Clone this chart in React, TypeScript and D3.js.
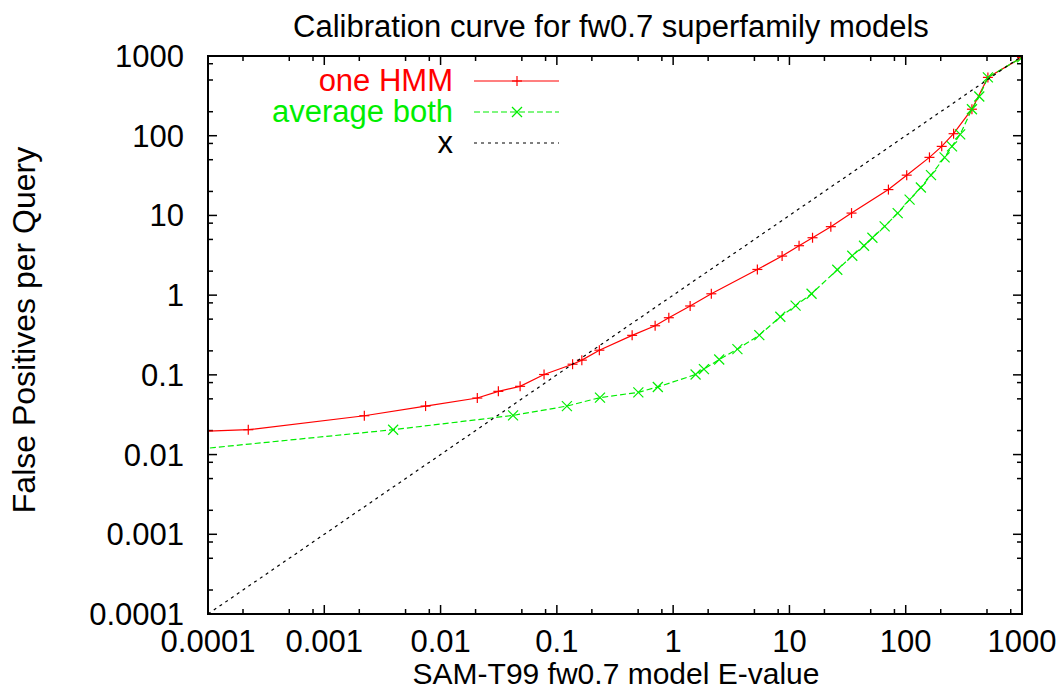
import React from "react";
import * as d3 from "d3";

const title = "Calibration curve for fw0.7 superfamily models";
const xLabel = "SAM-T99 fw0.7 model E-value";
const yLabel = "False Positives per Query";
const tickValues = [1e-4, 1e-3, 1e-2, 1e-1, 1, 10, 100, 1000];
const tickLabels = ["0.0001", "0.001", "0.01", "0.1", "1", "10", "100", "1000"];
const minorMultipliers = [2, 5, 8];

const seriesNames = ["one HMM", "average both", "x"];
const seriesColors = ["#ff0000", "#00ee00", "#000000"];

const oneHmmX = [0.00003, 0.000222, 0.00221, 0.00743, 0.0207, 0.0314, 0.0483, 0.0776, 0.1365, 0.164, 0.232, 0.444, 0.7, 0.918, 1.4, 2.13, 5.3, 8.65, 12.1, 15.8, 22.7, 34.2, 71.0, 102, 160, 204, 258, 371, 509, 1000];
const oneHmmY = [0.0185, 0.0205, 0.0307, 0.0406, 0.0512, 0.0621, 0.0718, 0.101, 0.136, 0.153, 0.204, 0.313, 0.413, 0.521, 0.731, 1.04, 2.1, 3.09, 4.17, 5.25, 7.23, 10.7, 21.1, 32.0, 53.5, 73.5, 106, 215, 539, 960];

const avgBothX = [0.00003, 0.00391, 0.042, 0.122, 0.235, 0.502, 0.738, 1.56, 1.84, 2.49, 3.57, 5.51, 8.35, 11.3, 15.5, 25.8, 34.7, 43.8, 51.7, 65.9, 85.3, 108, 135, 165, 216, 250, 294, 371, 429, 509, 1000];
const avgBothY = [0.0101, 0.0205, 0.031, 0.0406, 0.0518, 0.0604, 0.0705, 0.101, 0.118, 0.156, 0.21, 0.315, 0.536, 0.738, 1.04, 2.08, 3.12, 4.17, 5.25, 7.29, 10.7, 15.8, 22.4, 32.0, 53.5, 73.5, 104, 215, 310, 539, 960];

const diagX = [1e-4, 1000];
const diagY = [1e-4, 1000];

const W = 1060, H = 690;
const L = 208, R = 1022, T = 56, B = 614;
const FONT = "'Liberation Sans', Arial, Helvetica, sans-serif";
const FS = 31;

export default function App() {
  const x = d3.scaleLog().domain([1e-4, 1000]).range([L, R]);
  const y = d3.scaleLog().domain([1e-4, 1000]).range([B, T]);
  const line = d3.line<[number, number]>().x(d => x(d[0])).y(d => y(d[1]));

  const red: [number, number][] = oneHmmX.map((v, i) => [v, oneHmmY[i]]);
  const green: [number, number][] = avgBothX.map((v, i) => [v, avgBothY[i]]);
  const diag: [number, number][] = diagX.map((v, i) => [v, diagY[i]]);

  const minors: number[] = [];
  tickValues.slice(0, -1).forEach(t => minorMultipliers.forEach(m => minors.push(t * m)));

  const inside = (p: [number, number]) => p[0] >= 1e-4 && p[0] <= 1000 && p[1] >= 1e-4 && p[1] <= 1000;
  const plus = (cx: number, cy: number, c: string, k: string) => (
    <g key={k} stroke={c} strokeWidth={1.2}>
      <line x1={cx - 5} y1={cy} x2={cx + 5} y2={cy} />
      <line x1={cx} y1={cy - 5} x2={cx} y2={cy + 5} />
    </g>
  );
  const cross = (cx: number, cy: number, c: string, k: string) => (
    <g key={k} stroke={c} strokeWidth={1.2}>
      <line x1={cx - 5} y1={cy - 5} x2={cx + 5} y2={cy + 5} />
      <line x1={cx - 5} y1={cy + 5} x2={cx + 5} y2={cy - 5} />
    </g>
  );

  const legendY = [81, 112, 143];

  return (
    <svg width={W} height={H} style={{ position: "absolute", left: 0, top: 0, background: "#fff" }} fontFamily={FONT}>
      <defs>
        <clipPath id="plotclip">
          <rect x={L} y={T} width={R - L} height={B - T} />
        </clipPath>
      </defs>
      <rect x={0} y={0} width={W} height={H} fill="#fff" />
      <text x={611} y={37} textAnchor="middle" fontSize={FS}>{title}</text>

      <g stroke="#000" strokeWidth={1.5}>
        {tickValues.map((t, i) => (
          <g key={"mx" + i}>
            <line x1={x(t)} x2={x(t)} y1={B} y2={B - 9} />
            <line x1={x(t)} x2={x(t)} y1={T} y2={T + 9} />
            <line x1={L} x2={L + 9} y1={y(t)} y2={y(t)} />
            <line x1={R} x2={R - 9} y1={y(t)} y2={y(t)} />
          </g>
        ))}
        {minors.map((t, i) => (
          <g key={"mn" + i}>
            <line x1={x(t)} x2={x(t)} y1={B} y2={B - 5} />
            <line x1={x(t)} x2={x(t)} y1={T} y2={T + 5} />
            <line x1={L} x2={L + 5} y1={y(t)} y2={y(t)} />
            <line x1={R} x2={R - 5} y1={y(t)} y2={y(t)} />
          </g>
        ))}
      </g>

      {tickValues.map((t, i) => (
        <text key={"xl" + i} x={x(t)} y={652} textAnchor="middle" fontSize={FS}>{tickLabels[i]}</text>
      ))}
      {tickValues.map((t, i) => (
        <text key={"yl" + i} x={184} y={y(t) + 11} textAnchor="end" fontSize={FS}>{tickLabels[i]}</text>
      ))}
      <text x={616} y={684} textAnchor="middle" fontSize={30}>{xLabel}</text>
      <text transform={`translate(35, 330) rotate(-90)`} textAnchor="middle" fontSize={32}>{yLabel}</text>

      <g clipPath="url(#plotclip)">
        <path d={line(red) || ""} fill="none" stroke={seriesColors[0]} strokeWidth={1.2} />
        {red.filter(inside).map((p, i) => plus(x(p[0]), y(p[1]), seriesColors[0], "r" + i))}
        <path d={line(green) || ""} fill="none" stroke={seriesColors[1]} strokeWidth={1.2} strokeDasharray="6,3" />
        {green.filter(inside).map((p, i) => cross(x(p[0]), y(p[1]), seriesColors[1], "g" + i))}
        <path d={line(diag) || ""} fill="none" stroke={seriesColors[2]} strokeWidth={1.2} strokeDasharray="3,4" />
      </g>

      {seriesNames.map((n, i) => (
        <text key={"lg" + i} x={453} y={legendY[i] + 10} textAnchor="end" fontSize={FS} fill={seriesColors[i]}>{n}</text>
      ))}
      <line x1={474} x2={559} y1={legendY[0]} y2={legendY[0]} stroke={seriesColors[0]} strokeWidth={1.2} />
      {plus(517, legendY[0], seriesColors[0], "lp")}
      <line x1={474} x2={559} y1={legendY[1]} y2={legendY[1]} stroke={seriesColors[1]} strokeWidth={1.2} strokeDasharray="6,3" />
      {cross(517, legendY[1], seriesColors[1], "lc")}
      <line x1={474} x2={559} y1={legendY[2]} y2={legendY[2]} stroke={seriesColors[2]} strokeWidth={1.2} strokeDasharray="3,4" />

      <rect x={L} y={T} width={R - L} height={B - T} fill="none" stroke="#000" strokeWidth={2} />
    </svg>
  );
}
